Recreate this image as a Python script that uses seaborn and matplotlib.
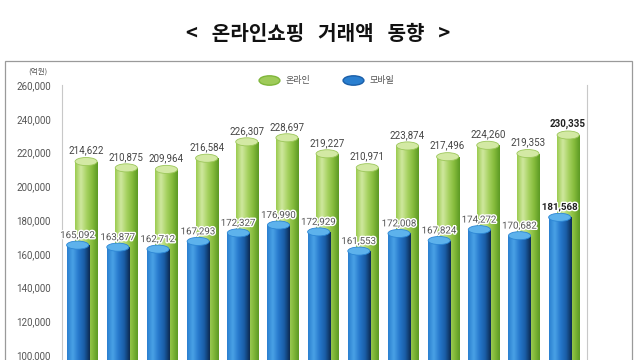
import numpy as np
import pandas as pd
import seaborn as sns
import matplotlib.pyplot as plt
import matplotlib.patheffects as pe
from matplotlib.colors import LinearSegmentedColormap
from matplotlib.patches import Ellipse, Rectangle
from matplotlib.lines import Line2D
from matplotlib.path import Path

# data (unit: 억원)
periods = ["1", "2", "3", "4", "5", "6", "7", "8", "9", "10", "11", "12", "13"]
online = [214622, 210875, 209964, 216584, 226307, 228697, 219227,
          210971, 223874, 217496, 224260, 219353, 230335]
mobile = [165092, 163877, 162712, 167293, 172327, 176990, 172929,
          161553, 172008, 167824, 174272, 170682, 181568]
yticks = [100000, 120000, 140000, 160000, 180000, 200000, 220000, 240000, 260000]

df = pd.DataFrame({"period": periods, "online": online, "mobile": mobile})

sns.set_theme(style="white")
plt.rcParams["font.family"] = ["Noto Sans CJK KR", "DejaVu Sans"]

fig = plt.figure(figsize=(6.4, 3.6), dpi=100)
ax = fig.add_axes([62 / 640, 0.0, (587 - 62) / 640, 1 - 85 / 360])

bw = 0.55
shift = 0.21
sns.barplot(data=df, x="period", y="online", color="#8cc045", width=bw, ax=ax)
sns.barplot(data=df, x="period", y="mobile", color="#1f70c0", width=bw, ax=ax)

n = len(periods)
green_bars = ax.patches[:n]
blue_bars = ax.patches[n:2 * n]
for p in blue_bars:
    p.set_x(p.get_x() - shift)

ymin, ymax = 97000, 260000
green_cmap = LinearSegmentedColormap.from_list(
    "g", ["#9acb4e", "#d0e8a0", "#a8d363", "#86bc3c", "#5c9a24"])
blue_cmap = LinearSegmentedColormap.from_list(
    "b", ["#2a7fd0", "#4aa2e6", "#2678cc", "#1a5ea8", "#0c2a52"])
grad = np.linspace(0, 1, 64).reshape(1, -1)
cap_h = 4800


def cylinders(bars, cmap, cap_face, cap_edge, z):
    for p in bars:
        x0, w, h = p.get_x(), p.get_width(), p.get_height()
        p.set_facecolor("none")
        p.set_edgecolor("none")
        im = ax.imshow(grad, extent=[x0, x0 + w, 0, h], aspect="auto",
                       cmap=cmap, zorder=z, interpolation="bicubic")
        im.set_clip_path(p)
        ax.add_patch(Ellipse((x0 + w / 2, h), w, cap_h, facecolor=cap_face,
                             edgecolor=cap_edge, lw=0.6, zorder=z + 0.1))


cylinders(green_bars, green_cmap, "#d3e9a4", "#9cc75a", 2)
cylinders(blue_bars, blue_cmap, "#5db2ec", "#2c86d4", 3)

# value labels
halo = [pe.withStroke(linewidth=2, foreground="white")]
for i, p in enumerate(green_bars):
    last = i == n - 1
    ax.text(p.get_x() + p.get_width() / 2, p.get_height() + 3600, f"{online[i]:,}",
            ha="center", va="bottom", fontsize=7, family="Roboto",
            color="#222222" if last else "#444444",
            weight="bold" if last else "normal", zorder=5)
for i, p in enumerate(blue_bars):
    last = i == n - 1
    ax.text(p.get_x() + p.get_width() / 2, p.get_height() + 3000, f"{mobile[i]:,}",
            ha="center", va="bottom", fontsize=7, family="Roboto",
            color="#222222" if last else "#555555",
            weight="bold" if last else "normal", zorder=5, path_effects=halo)

ax.set_xlim(-0.6, n - 1 + 0.47)
ax.set_ylim(ymin, ymax)
ax.set_yticks(yticks)
ax.set_yticklabels([f"{v:,}" for v in yticks], family="Roboto", fontsize=7, color="#555555")
ax.tick_params(axis="y", length=0, pad=8)
ax.set_xticks([])
ax.set_xlabel("")
ax.set_ylabel("")
for s in ["top", "bottom"]:
    ax.spines[s].set_visible(False)
for s in ["left", "right"]:
    ax.spines[s].set_color("#c8c8c8")
    ax.spines[s].set_linewidth(0.8)

# legend with flat ellipse markers
ell = Path.unit_circle()
ell = Path(ell.vertices * np.array([1.0, 0.45]), ell.codes)
handles = [
    Line2D([], [], ls="", marker=ell, markersize=15, markerfacecolor="#9fcb5a",
           markeredgecolor="#7fb63a"),
    Line2D([], [], ls="", marker=ell, markersize=15, markerfacecolor="#2a7fd0",
           markeredgecolor="#1a5ea8"),
]
ax.legend(handles, ["온라인", "모바일"], ncol=2, loc="center",
          bbox_to_anchor=(0.502, 1.015), frameon=False, fontsize=6.5,
          labelcolor="#555555", columnspacing=3.5, handlelength=2.6,
          handletextpad=0.5)

fig.text(38 / 640, 1 - 72 / 360, "(억원)", fontsize=5.5, color="#555555",
         ha="center", va="center")

fig.add_artist(Rectangle((5 / 640, -0.01), (632 - 5) / 640, 1 - 61 / 360 + 0.01,
                         transform=fig.transFigure, fill=False,
                         edgecolor="#9a9a9a", lw=0.9))

fig.text(318 / 640, 1 - 33 / 360, "<   온라인쇼핑   거래액   동향   >", fontsize=14.5,
         weight="bold", color="#111111", ha="center", va="center")

fig.savefig("out.png", dpi=100)
